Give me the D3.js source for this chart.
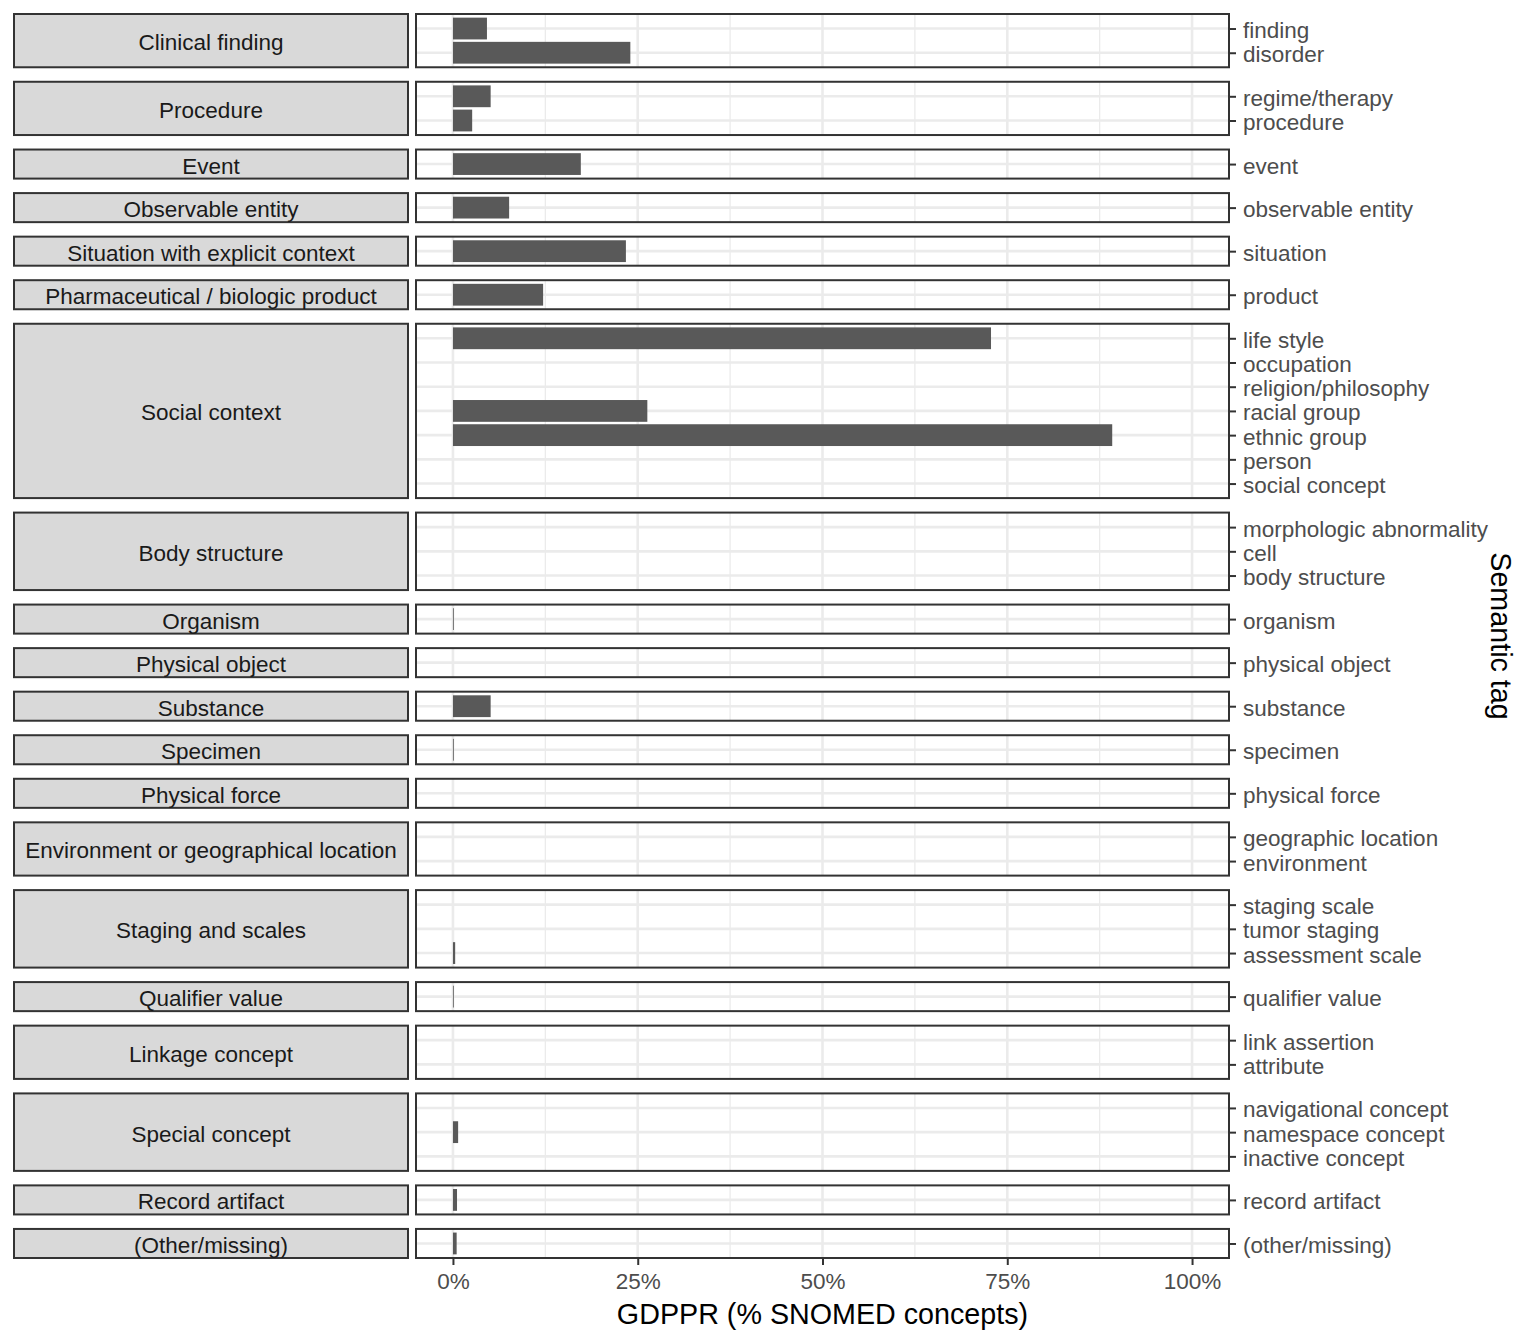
<!DOCTYPE html>
<html><head><meta charset="utf-8">
<script src="https://cdn.jsdelivr.net/npm/d3@7"></script>
<style>body{margin:0;background:#fff;} svg{display:block;font-family:"Liberation Sans",Arial,sans-serif;}</style>
</head><body>
<svg id="chart" width="1536" height="1344"></svg>
<script>
const groups = ["Clinical finding","Procedure","Event","Observable entity","Situation with explicit context","Pharmaceutical / biologic product","Social context","Body structure","Organism","Physical object","Substance","Specimen","Physical force","Environment or geographical location","Staging and scales","Qualifier value","Linkage concept","Special concept","Record artifact","(Other/missing)"];
const tags = ["finding","disorder","regime/therapy","procedure","event","observable entity","situation","product","life style","occupation","religion/philosophy","racial group","ethnic group","person","social concept","morphologic abnormality","cell","body structure","organism","physical object","substance","specimen","physical force","geographic location","environment","staging scale","tumor staging","assessment scale","qualifier value","link assertion","attribute","navigational concept","namespace concept","inactive concept","record artifact","(other/missing)"];
const tagGroups = ["Clinical finding","Clinical finding","Procedure","Procedure","Event","Observable entity","Situation with explicit context","Pharmaceutical / biologic product","Social context","Social context","Social context","Social context","Social context","Social context","Social context","Body structure","Body structure","Body structure","Organism","Physical object","Substance","Specimen","Physical force","Environment or geographical location","Environment or geographical location","Staging and scales","Staging and scales","Staging and scales","Qualifier value","Linkage concept","Linkage concept","Special concept","Special concept","Special concept","Record artifact","(Other/missing)"];
const values = [0.046,0.24,0.051,0.026,0.173,0.076,0.234,0.122,0.728,0,0,0.263,0.892,0,0,0,0,0,0.001,0,0.051,0.001,0,0,0,0,0,0.003,0.001,0,0,0,0.007,0,0.0055,0.005];
const xTicks = [0,0.25,0.5,0.75,1];
const xMinor = [0.125,0.375,0.625,0.875];

(function(){
const svg = d3.select("#chart");
const plotTop = 14, plotBottom = 1258, gap = 14.5;
const pL = 416, pR = 1229, sL = 14, sR = 408;
const fs = 22.5;

const rows = groups.map(g => {
  const idx = tags.map((t,i)=>i).filter(i => tagGroups[i] === g);
  return {group: g, items: idx.map(i => ({tag: tags[i], value: values[i]}))};
});
const totalUnits = d3.sum(rows, r => r.items.length + 0.2);
const unit = (plotBottom - plotTop - gap*(rows.length-1)) / totalUnits;

const x = d3.scaleLinear().domain([-0.05,1.05]).range([pL,pR]);

let yy = plotTop;
rows.forEach(r => {
  const h = (r.items.length + 0.2) * unit;
  r.y0 = yy; r.y1 = yy + h;
  yy += h + gap;
});

rows.forEach(r => {
  const y = d3.scalePoint().domain(r.items.map(d=>d.tag)).range([r.y0, r.y1]).padding(0.6);
  const step = unit;
  const g = svg.append("g");
  g.append("rect").attr("x",pL).attr("y",r.y0).attr("width",pR-pL).attr("height",r.y1-r.y0).attr("fill","#fff");
  g.selectAll(".vmin").data(xMinor).join("line")
    .attr("x1",d=>x(d)).attr("x2",d=>x(d)).attr("y1",r.y0).attr("y2",r.y1)
    .attr("stroke","#EBEBEB").attr("stroke-width",1.3);
  g.selectAll(".vmaj").data(xTicks).join("line")
    .attr("x1",d=>x(d)).attr("x2",d=>x(d)).attr("y1",r.y0).attr("y2",r.y1)
    .attr("stroke","#EBEBEB").attr("stroke-width",2.6);
  g.selectAll(".hmaj").data(r.items).join("line")
    .attr("x1",pL).attr("x2",pR).attr("y1",d=>y(d.tag)).attr("y2",d=>y(d.tag))
    .attr("stroke","#EBEBEB").attr("stroke-width",2.6);
  g.selectAll(".bar").data(r.items.filter(d=>d.value>0)).join("rect")
    .attr("x",x(0)).attr("width",d=>Math.max(x(d.value)-x(0),0.8))
    .attr("y",d=>y(d.tag)-0.45*step).attr("height",0.9*step)
    .attr("fill","#595959");
  g.append("rect").attr("x",pL).attr("y",r.y0).attr("width",pR-pL).attr("height",r.y1-r.y0)
    .attr("fill","none").attr("stroke","#333333").attr("stroke-width",2);
  const ax = d3.axisRight(y).tickSize(7).tickPadding(7);
  const axg = g.append("g").attr("transform",`translate(${pR},0)`).call(ax);
  axg.attr("font-family",null).attr("font-size",null);
  axg.select(".domain").remove();
  axg.selectAll(".tick line").attr("stroke","#333333").attr("stroke-width",2);
  axg.selectAll(".tick text").attr("fill","#4D4D4D").style("font-size",fs+"px").attr("dy","0.4em");
  g.append("rect").attr("x",sL).attr("y",r.y0).attr("width",sR-sL).attr("height",r.y1-r.y0)
    .attr("fill","#D9D9D9").attr("stroke","#333333").attr("stroke-width",2);
  g.append("text").attr("x",(sL+sR)/2).attr("y",(r.y0+r.y1)/2).attr("dy","0.42em")
    .attr("text-anchor","middle").attr("fill","#1A1A1A").style("font-size",fs+"px").text(r.group);
});

const xa = d3.axisBottom(x).tickValues(xTicks).tickFormat(d3.format(".0%")).tickSize(7).tickPadding(8);
const xg = svg.append("g").attr("transform",`translate(0,${plotBottom})`).call(xa);
xg.attr("font-family",null).attr("font-size",null);
xg.select(".domain").remove();
xg.selectAll(".tick line").attr("stroke","#333333").attr("stroke-width",2);
xg.selectAll(".tick text").attr("fill","#4D4D4D").style("font-size",fs+"px");

svg.append("text").attr("x",(pL+pR)/2).attr("y",1324).attr("text-anchor","middle")
  .attr("fill","#000").style("font-size","28.7px").text("GDPPR (% SNOMED concepts)");
svg.append("text").attr("transform",`translate(1491,${(plotTop+plotBottom)/2}) rotate(90)`)
  .attr("text-anchor","middle").attr("fill","#000").style("font-size","28.7px").text("Semantic tag");
})();
</script>
</body></html>
